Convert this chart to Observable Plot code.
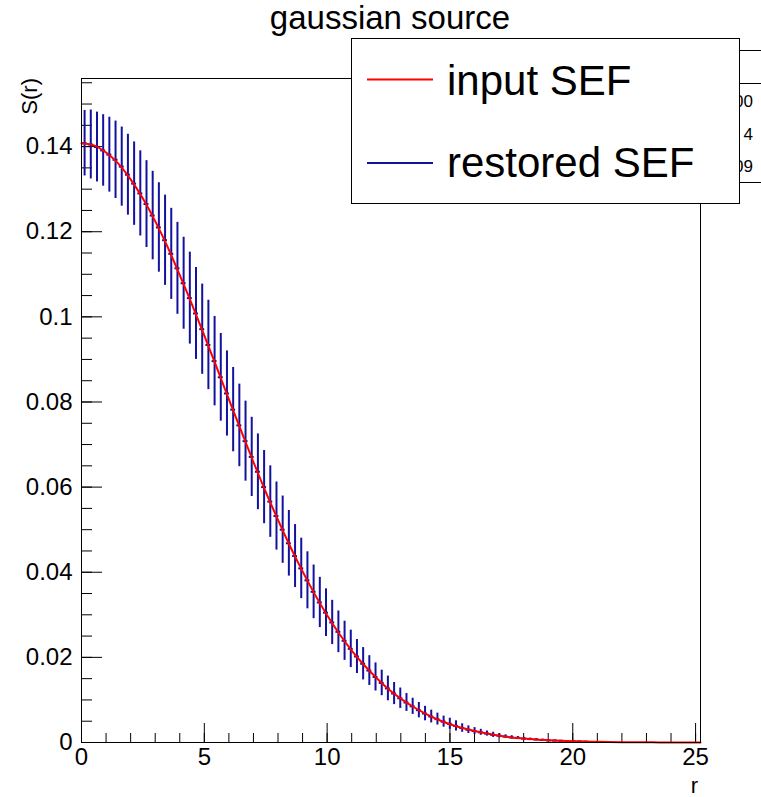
<!DOCTYPE html>
<html><head><meta charset="utf-8">
<script src="https://cdn.jsdelivr.net/npm/d3@7"></script>
<script src="https://cdn.jsdelivr.net/npm/@observablehq/plot@0.6"></script>
<style>html,body{margin:0;padding:0;background:#fff;} #chart{width:761px;height:797px;}</style>
</head><body><div id="chart"></div>
<script>
// ---- data ----
const binWidth = 0.252;
const binCenters = [
0.126,0.378,0.630,0.882,1.134,1.386,1.638,1.890,2.142,2.394,
2.646,2.898,3.150,3.402,3.654,3.906,4.158,4.410,4.662,4.914,
5.166,5.418,5.670,5.922,6.174,6.426,6.678,6.930,7.182,7.434,
7.686,7.938,8.190,8.442,8.694,8.946,9.198,9.450,9.702,9.954,
10.206,10.458,10.710,10.962,11.214,11.466,11.718,11.970,12.222,12.474,
12.726,12.978,13.230,13.482,13.734,13.986,14.238,14.490,14.742,14.994,
15.246,15.498,15.750,16.002,16.254,16.506,16.758,17.010,17.262,17.514,
17.766,18.018,18.270,18.522,18.774,19.026,19.278,19.530,19.782,20.034,
20.286,20.538];
const restoredSEF = [
0.1408,0.1405,0.1399,0.1391,0.1381,0.1369,0.1353,0.1334,0.1313,0.1290,
0.1265,0.1238,0.1210,0.1180,0.1148,0.1114,0.1079,0.1044,0.1008,0.0971,
0.0934,0.0896,0.0858,0.0820,0.0782,0.0745,0.0708,0.0671,0.0636,0.0600,
0.0566,0.0532,0.0500,0.0468,0.0438,0.0409,0.0381,0.0354,0.0329,0.0305,
0.0282,0.0260,0.0239,0.0220,0.0202,0.0185,0.0169,0.0154,0.0140,0.0127,
0.0115,0.0104,0.0094,0.0085,0.0076,0.0068,0.0061,0.0055,0.0049,0.0044,
0.0039,0.0034,0.0030,0.0027,0.0024,0.0021,0.0018,0.0016,0.0014,0.0012,
0.0011,0.0009,0.0008,0.0007,0.0006,0.0005,0.00045,0.0004,0.00033,0.00028,
0.00024,0.0002];
const restoredErr = [
0.0077,0.0081,0.0082,0.0084,0.0088,0.0091,0.0093,0.0095,0.0098,0.0100,
0.0102,0.0104,0.0105,0.0106,0.0107,0.0108,0.0108,0.0108,0.0108,0.0106,
0.0105,0.0105,0.0103,0.0100,0.0099,0.0097,0.0094,0.0093,0.0089,0.0086,
0.0084,0.0080,0.0079,0.0077,0.0074,0.0071,0.0067,0.0063,0.0059,0.0056,
0.0052,0.0049,0.0046,0.0044,0.0040,0.0038,0.0035,0.0033,0.0030,0.0029,
0.0026,0.0024,0.0021,0.0019,0.0018,0.0017,0.0015,0.0014,0.0013,0.0013,
0.0012,0.0010,0.0009,0.0008,0.0007,0.0006,0.0006,0.0005,0.0004,0.0004,
0.0003,0.0003,0.00025,0.0002,0.0002,0.00015,0.00015,0.0001,0.0001,0.0001,
0.00005,0.00005];
const inputR = [0,0.5,1,1.5,2,2.5,3,3.5,4,4.5,5,5.5,6,6.5,7,7.5,8,8.5,9,9.5,
10,10.5,11,11.5,12,12.5,13,13.5,14,14.5,15,15.5,16,16.5,17,17.5,18,18.5,19,19.5,
20,20.5,21,21.5,22,22.5,23,23.5,24,24.5,25,25.2];
const inputSEF = [0.1408,0.1403,0.1386,0.1360,0.1323,0.1278,0.1225,0.1165,0.1098,0.1029,
0.0956,0.0882,0.0806,0.0732,0.0659,0.0589,0.0523,0.0460,0.0402,0.0348,
0.0299,0.0255,0.0216,0.0182,0.0152,0.0125,0.0103,0.0084,0.0068,0.0054,
0.0043,0.0034,0.0027,0.0021,0.0016,0.0012,0.00093,0.00070,0.00053,0.00039,
0.00029,0.00021,0.00015,0.00010,0.00007,0.00005,0.00004,0.00002,0.00001,0.00001,0,0];
const xTickLabels = [0,5,10,15,20,25];
const xMinorTicks = [0,1,2,3,4,5,6,7,8,9,10,11,12,13,14,15,16,17,18,19,20,21,22,23,24,25];
const yTickLabels = [0,0.02,0.04,0.06,0.08,0.1,0.12,0.14];
const yMinorTicks = [0,0.005,0.01,0.015,0.02,0.025,0.03,0.035,0.04,0.045,0.05,0.055,0.06,0.065,0.07,0.075,
0.08,0.085,0.09,0.095,0.1,0.105,0.11,0.115,0.12,0.125,0.13,0.135,0.14,0.145,0.15,0.155];
const titleText = "gaussian source";
const xTitle = "r", yTitle = "S(r)";
const legendLabels = ["input SEF", "restored SEF"];
const statsFragments = ["00", "4", "09"];

// ---- layout / style ----
const FONT = "'Liberation Sans', Arial, Helvetica, sans-serif";
const W = 761, H = 797, mL = 81, mR = 61, mT = 78, mB = 55;
const plotW = W - mL - mR, plotH = H - mT - mB;
const BLUE = "#12129e", RED = "#ff0000";

const bins = binCenters.map((r, i) => ({r, v: restoredSEF[i], e: restoredErr[i]}));
const input = inputR.map((r, i) => ({r, s: inputSEF[i]}));

const plot = Plot.plot({
  width: W, height: H,
  marginLeft: mL, marginRight: mR, marginTop: mT, marginBottom: mB,
  style: {fontFamily: FONT, fontSize: "24px", background: "white", color: "black"},
  x: {domain: [0, 25.2]},
  y: {domain: [0, 0.156]},
  marks: [
    Plot.ruleX(xTickLabels, {x: d => d, insetTop: plotH - 19, stroke: "#000"}),
    Plot.ruleX(xMinorTicks, {x: d => d, insetTop: plotH - 9, stroke: "#000"}),
    Plot.ruleY(yTickLabels, {y: d => d, insetRight: plotW - 21, stroke: "#000"}),
    Plot.ruleY(yMinorTicks, {y: d => d, insetRight: plotW - 11, stroke: "#000"}),
    Plot.axisX({ticks: xTickLabels, tickSize: 0, tickPadding: 5, tickFormat: d => String(d), label: null, fontSize: 24}),
    Plot.axisY({ticks: yTickLabels, tickSize: 0, tickPadding: 9, tickFormat: d => String(d), label: null, fontSize: 24}),
    Plot.ruleX(bins, {x: "r", y1: d => d.v - d.e, y2: d => d.v + d.e, stroke: BLUE, strokeWidth: 2}),
    Plot.ruleY(bins, {y: "v", x1: d => d.r - binWidth * 0.4, x2: d => d.r + binWidth * 0.4, stroke: BLUE, strokeWidth: 2}),
    Plot.line(input, {x: "r", y: "s", stroke: RED, strokeWidth: 2, curve: "monotone-x"}),
    Plot.frame({stroke: "#000"})
  ]
});
document.getElementById("chart").appendChild(plot);

const svg = d3.select(plot);
function addText(parent, x, y, size, anchor, str, transform) {
  const t = parent.append("text").attr("font-size", size).attr("font-family", FONT)
    .attr("fill", "#000").attr("text-anchor", anchor).text(str);
  if (transform) t.attr("transform", transform); else t.attr("x", x).attr("y", y);
  return t;
}
// title
addText(svg, 390, 29, 33, "middle", titleText);
// axis titles
addText(svg, 0, 0, 22, "end", yTitle, "translate(37,78) rotate(-90)");
addText(svg, 698, 793, 22, "end", xTitle);
// stats box (mostly hidden behind the legend)
const st = svg.append("g");
st.append("rect").attr("x", 560.5).attr("y", 50.5).attr("width", 240).attr("height", 132)
  .attr("fill", "white").attr("stroke", "#000");
st.append("line").attr("x1", 560).attr("x2", 800).attr("y1", 83.5).attr("y2", 83.5).attr("stroke", "#000");
[107, 140, 172].forEach((y, i) => addText(st, 753, y, 17, "end", statsFragments[i]));
// legend
const lg = svg.append("g");
lg.append("rect").attr("x", 351.5).attr("y", 38.5).attr("width", 388).attr("height", 165)
  .attr("fill", "white").attr("stroke", "#000");
lg.append("line").attr("x1", 367).attr("x2", 433).attr("y1", 79.5).attr("y2", 79.5).attr("stroke", RED).attr("stroke-width", 2);
lg.append("line").attr("x1", 367).attr("x2", 433).attr("y1", 163).attr("y2", 163).attr("stroke", BLUE).attr("stroke-width", 2);
addText(lg, 447, 95, 42, "start", legendLabels[0]);
addText(lg, 447, 177, 42, "start", legendLabels[1]);
</script></body></html>
